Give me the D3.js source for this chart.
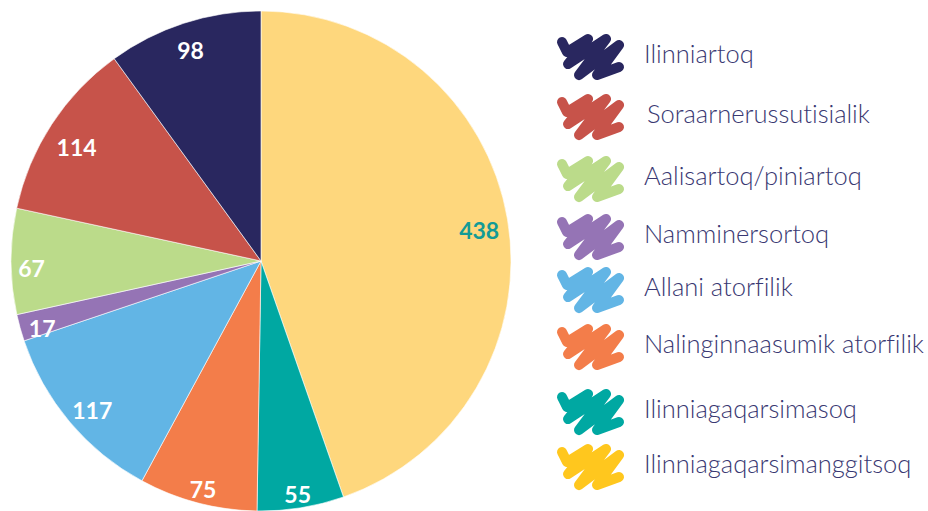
<!DOCTYPE html>
<html>
<head>
<meta charset="utf-8">
<script src="https://cdn.jsdelivr.net/npm/d3@7"></script>
<style>
  body { margin: 0; background: #fff; }
  svg { display: block; }
</style>
</head>
<body>
<svg id="chart"></svg>
<script>
const categories = [
  "Ilinniartoq",
  "Soraarnerussutisialik",
  "Aalisartoq/piniartoq",
  "Namminersortoq",
  "Allani atorfilik",
  "Nalinginnaasumik atorfilik",
  "Ilinniagaqarsimasoq",
  "Ilinniagaqarsimanggitsoq"
];
const values = [98, 114, 67, 17, 117, 75, 55, 438];
const sliceColors = ["#29275f", "#c7534a", "#bbdb8a", "#9574b5", "#62b5e5", "#f37d4a", "#00a8a2", "#fed77d"];
const legendColors = ["#29275f", "#c7534a", "#bbdb8a", "#9574b5", "#62b5e5", "#f37d4a", "#00a8a2", "#ffc71e"];
const labelColors = ["#fff", "#fff", "#fff", "#fff", "#fff", "#fff", "#fff", "#139b96"];

const w = 928, h = 511;
const cx = 261, cy = 261, r = 250;

const svg = d3.select("#chart").attr("width", w).attr("height", h);

// pie goes clockwise from the top, in reverse of the legend order
const rows = categories.map((c, i) => ({ name: c, value: values[i], i: i })).reverse();
const pie = d3.pie().value(d => d.value).sort(null);
const arcs = pie(rows);
const arc = d3.arc().innerRadius(0).outerRadius(r);

const g = svg.append("g").attr("transform", "translate(" + cx + "," + cy + ")");
g.selectAll("path")
  .data(arcs)
  .enter()
  .append("path")
  .attr("d", arc)
  .attr("fill", d => sliceColors[d.data.i])
  .attr("stroke", "#fff")
  .attr("stroke-width", 0.6);

// labels sit at the inside end: push the text box out until its far corner touches r - 7
const fit = r - 7, hh = 11;
const labels = g.selectAll("text")
  .data(arcs)
  .enter()
  .append("text")
  .attr("text-anchor", "middle")
  .attr("dy", "0.5em")
  .attr("font-family", "Lato, 'Open Sans', sans-serif")
  .attr("font-weight", 700)
  .attr("font-size", 23)
  .attr("fill", d => labelColors[d.data.i])
  .text(d => d.data.value);

labels.attr("transform", function(d) {
  const a = (d.startAngle + d.endAngle) / 2;
  const ux = Math.sin(a), uy = -Math.cos(a);
  const sx = Math.sign(ux) * this.getComputedTextLength() / 2;
  const sy = Math.sign(uy) * hh;
  const us = ux * sx + uy * sy;
  const dist = -us + Math.sqrt(us * us - (sx * sx + sy * sy) + fit * fit);
  return "translate(" + dist * ux + "," + (dist * uy + 4) + ")";
});

// legend with scribble marks
const scribble = [[10, 11], [15, 21], [36, 8], [16, 33], [54, 8], [27, 44], [67, 14], [45, 44], [67, 36]];
const line = d3.line();
const rowY = [63, 123, 185, 243, 296, 353, 418, 473];

const legend = svg.append("g");
const item = legend.selectAll("g")
  .data(categories)
  .enter()
  .append("g")
  .attr("transform", (d, i) => "translate(552," + rowY[i] + ")");

item.append("path")
  .attr("d", line(scribble))
  .attr("transform", "translate(0,-32)")
  .attr("fill", "none")
  .attr("stroke", (d, i) => legendColors[i])
  .attr("stroke-width", 10)
  .attr("stroke-linecap", "round")
  .attr("stroke-linejoin", "round");

item.append("text")
  .attr("x", (d, i) => i == 1 ? 95 : 92)
  .attr("y", 0)
  .attr("font-family", "Lato, 'Open Sans', sans-serif")
  .attr("font-weight", 300)
  .attr("font-size", 25.5)
  .style("font-variant-ligatures", "none")
  .attr("fill", "#393872")
  .text(d => d);
</script>
</body>
</html>
